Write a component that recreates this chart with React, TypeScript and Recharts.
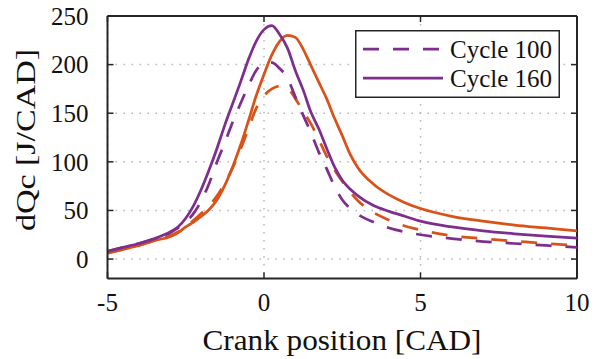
import React from 'react';
import { LineChart, Line, XAxis, YAxis, CartesianGrid, Legend, ReferenceLine, Label } from 'recharts';

// crank angle [CAD]
const crankAngle = [
  -5, -4.5, -4, -3.5, -3, -2.75, -2.5, -2.25, -2, -1.75, -1.5, -1.25, -1, -0.75, -0.5, -0.25,
  0, 0.25, 0.5, 0.75, 1, 1.25, 1.5, 1.75, 2, 2.25, 2.5, 2.75, 3, 3.5, 4, 4.5, 5, 6, 7, 8, 9, 10,
];

// heat release rate [J/CAD], purple traces
const cycle100 = [
  8, 12, 16, 21, 27, 32, 38, 47, 60, 78, 100, 120, 141, 160, 178, 194,
  201, 202, 196, 186, 167, 148, 130, 110, 93, 75, 61, 52, 46, 38, 32, 28, 25, 21, 18, 16, 14, 12,
];
const cycle160 = [
  8, 12, 16, 21, 28, 33, 42, 55, 72, 92, 114, 138, 160, 182, 205, 224,
  236, 240, 231, 217, 194, 174, 151, 134, 114, 95, 81, 72, 65, 55, 49, 44, 39, 33, 29, 26, 23.5, 21.5,
];

// heat release rate [J/CAD], orange traces
const cycle100b = [
  6, 10, 14, 19, 24, 28, 33, 40, 47, 55, 65, 78, 94, 113, 134, 155,
  168, 175, 178, 176, 165, 152, 139, 123, 106, 92, 80, 69, 60, 48, 40, 34, 30, 24, 21, 18.5, 16, 14,
];
const cycle160b = [
  6, 10, 14, 19, 23, 27, 33, 38, 44, 51, 61, 76, 95, 117, 142, 168,
  190, 210, 224, 230, 228, 216, 199, 182, 165, 145, 127, 108, 94, 77, 66, 58, 52, 44, 39, 35, 32, 29,
];

const xTicks = [-5, 0, 5, 10];
const yTicks = [0, 50, 100, 150, 200, 250];

const data = crankAngle.map((x, i) => ({
  x,
  c100: cycle100[i],
  c160: cycle160[i],
  c100b: cycle100b[i],
  c160b: cycle160b[i],
}));

const PURPLE = '#7E2F8E';
const ORANGE = '#D95319';
const AXIS = '#262626';
const SERIF = { fontFamily: "'Liberation Serif', 'DejaVu Serif', serif" };
const DASH = '16 14';

const PLOT_W = 469.5;
const PLOT_H = 262.5;
const TICK_LEN = 6;

const XTick = ({ x, y, payload }: any) => (
  <g>
    <line x1={x} y1={y} x2={x} y2={y - TICK_LEN} stroke={AXIS} strokeWidth={1.5} />
    <line x1={x} y1={y - PLOT_H} x2={x} y2={y - PLOT_H + TICK_LEN} stroke={AXIS} strokeWidth={1.5} />
    <text x={x} y={y + 32} textAnchor="middle" fontSize={25} style={SERIF} fill="#111">
      {payload.value}
    </text>
  </g>
);

const YTick = ({ x, y, payload }: any) => (
  <g>
    <line x1={x} y1={y} x2={x + TICK_LEN} y2={y} stroke={AXIS} strokeWidth={1.5} />
    <line x1={x + PLOT_W} y1={y} x2={x + PLOT_W - TICK_LEN} y2={y} stroke={AXIS} strokeWidth={1.5} />
    <text x={x - 19} y={y} dy="0.35em" textAnchor="end" fontSize={25} style={SERIF} fill="#111">
      {payload.value}
    </text>
  </g>
);

// only the purple traces are listed in the key
const LegendBox = ({ payload }: any) => {
  const items = (payload || []).filter(
    (item: any) => item.type !== 'none' && (item.dataKey === 'c100' || item.dataKey === 'c160'),
  );
  return (
    <svg width={205} height={68} style={{ display: 'block' }}>
      <rect x={0.75} y={0.75} width={203.5} height={66.5} fill="#fff" stroke={AXIS} strokeWidth={1.5} />
      {items.map((item: any, i: number) => {
        const cy = 19 + i * 29;
        return (
          <g key={item.value}>
            <line
              x1={8}
              y1={cy}
              x2={88}
              y2={cy}
              stroke={item.color}
              strokeWidth={2.75}
              strokeDasharray={item.payload?.strokeDasharray}
            />
            <text x={95} y={cy} dy="0.35em" fontSize={25} style={SERIF} fill="#111">
              {item.value}
            </text>
          </g>
        );
      })}
    </svg>
  );
};

export default function App() {
  return (
    <div style={{ position: 'absolute', left: 0, top: 0, background: '#fff' }}>
      <LineChart
        width={603}
        height={359}
        data={data}
        margin={{ top: 16, right: 26, left: 47.5, bottom: 50.5 }}
      >
        <CartesianGrid
          stroke="#b8b8b8"
          strokeWidth={1.5}
          strokeDasharray="1.5 6.5"
          horizontalValues={yTicks}
          verticalValues={xTicks}
        />
        <XAxis
          dataKey="x"
          type="number"
          domain={[-5, 10]}
          ticks={xTicks}
          height={30}
          tickSize={0}
          tickMargin={0}
          tick={<XTick />}
          stroke={AXIS}
          strokeWidth={2}
          allowDataOverflow
        >
          <Label
            content={() => (
              <text
                x={342}
                y={350}
                textAnchor="middle"
                fontSize={30}
                style={SERIF}
                fill="#111"
                textLength={279}
                lengthAdjust="spacingAndGlyphs"
              >
                Crank position [CAD]
              </text>
            )}
          />
        </XAxis>
        <YAxis
          type="number"
          domain={[-20, 250]}
          ticks={yTicks}
          width={60}
          tickSize={0}
          tickMargin={0}
          tick={<YTick />}
          stroke={AXIS}
          strokeWidth={2}
          allowDataOverflow
        >
          <Label
            content={() => (
              <text
                transform="translate(35,140) rotate(-90)"
                textAnchor="middle"
                fontSize={28}
                style={SERIF}
                fill="#111"
                textLength={182}
                lengthAdjust="spacingAndGlyphs"
              >
                dQc [J/CAD]
              </text>
            )}
          />
        </YAxis>
        {/* close the box on the top and right */}
        <ReferenceLine y={250} stroke={AXIS} strokeWidth={2} />
        <ReferenceLine x={10} stroke={AXIS} strokeWidth={2} />
        <Line
          dataKey="c100b"
          type="monotone"
          stroke={ORANGE}
          strokeWidth={2.75}
          strokeDasharray={DASH}
          dot={false}
          legendType="none"
          isAnimationActive={false}
        />
        <Line
          dataKey="c160b"
          type="monotone"
          stroke={ORANGE}
          strokeWidth={2.75}
          dot={false}
          legendType="none"
          isAnimationActive={false}
        />
        <Line
          dataKey="c100"
          name="Cycle 100"
          type="monotone"
          stroke={PURPLE}
          strokeWidth={2.75}
          strokeDasharray={DASH}
          dot={false}
          isAnimationActive={false}
        />
        <Line
          dataKey="c160"
          name="Cycle 160"
          type="monotone"
          stroke={PURPLE}
          strokeWidth={2.75}
          dot={false}
          isAnimationActive={false}
        />
        <Legend
          layout="vertical"
          align="center"
          verticalAlign="middle"
          content={<LegendBox />}
          wrapperStyle={{ left: 355, top: 30, width: 205, height: 68 }}
        />
      </LineChart>
    </div>
  );
}
